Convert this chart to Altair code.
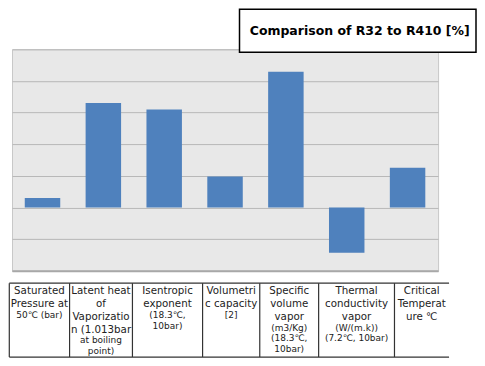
import altair as alt
import pandas as pd

# ---------------- data ----------------
CATEGORIES = [
    "Saturated Pressure at 50℃ (bar)",
    "Latent heat of Vaporization (1.013bar at boiling point)",
    "Isentropic exponent (18.3℃, 10bar)",
    "Volumetric capacity [2]",
    "Specific volume vapor (m3/Kg) (18.3℃, 10bar)",
    "Thermal conductivity vapor (W/(m.k)) (7.2℃, 10bar)",
    "Critical Temperature ℃",
]
VALUES = [3.0, 33.0, 31.0, 9.8, 42.9, -14.3, 12.6]

LABEL_LINES = [
    ["Saturated", "Pressure at", "50℃ (bar)"],
    ["Latent heat", "of", "Vaporizatio", "n (1.013bar", "at boiling", "point)"],
    ["Isentropic", "exponent", "(18.3℃,", "10bar)"],
    ["Volumetri", "c capacity", "[2]"],
    ["Specific", "volume", "vapor", "(m3/Kg)", "(18.3℃,", "10bar)"],
    ["Thermal", "conductivity", "vapor", "(W/(m.k))", "(7.2℃, 10bar)"],
    ["Critical", "Temperat", "ure ℃"],
]
SMALL_FROM = [2, 4, 2, 2, 3, 3, 3]  # index of first small-print line per column

TITLE = "Comparison of R32 to R410 [%]"
Y_TICKS = [-20, -10, 0, 10, 20, 30, 40, 50]

# ---------------- layout ----------------
W, H = 427, 222
COL_WIDTHS = [60.4, 63, 70.3, 57.3, 59, 76, 54.7]
TABLE_LEFT = -2.7
TABLE_TOP, TABLE_H = 234.4, 74
BIG_FS, SMALL_FS = 10.3, 9
FIRST_BASE, BIG_STEP, SMALL_STEP = 11.3, 12.8, 10.7
FONT = "DejaVu Sans"

edges = [0.0]
for w in COL_WIDTHS:
    edges.append(edges[-1] + w)
total_w = edges[-1]

rows = []
for ci, lines in enumerate(LABEL_LINES):
    cx = edges[ci] + COL_WIDTHS[ci] / 2
    ty = FIRST_BASE
    for li, txt in enumerate(lines):
        small = li >= SMALL_FROM[ci]
        if li > 0:
            ty += SMALL_STEP if small else BIG_STEP
        rows.append({"tx": cx, "ty": ty, "text": txt,
                     "fs": SMALL_FS if small else BIG_FS})
table_df = pd.DataFrame(rows)
vedges_df = pd.DataFrame({"e": edges[:-1]})
hedges_df = pd.DataFrame({"h": [0, TABLE_H]})

df = pd.DataFrame({"cat": CATEGORIES, "value": VALUES})
title_df = pd.DataFrame({"title": [TITLE]})

tx_scale = alt.Scale(domain=[0, total_w], range=[TABLE_LEFT, TABLE_LEFT + total_w], nice=False, zero=False)
ty_scale = alt.Scale(domain=[0, TABLE_H], range=[TABLE_TOP, TABLE_TOP + TABLE_H], nice=False, zero=False)

bars = alt.Chart(df).mark_bar(color="#4F81BD").encode(
    x=alt.X("cat:N", sort=CATEGORIES,
            scale=alt.Scale(paddingInner=0.417, paddingOuter=0.21),
            axis=alt.Axis(labels=False, ticks=False, title=None, grid=False,
                          domain=True, domainColor="#A8A8A8", domainWidth=2)),
    y=alt.Y("value:Q", scale=alt.Scale(domain=[-20, 50], nice=False),
            axis=alt.Axis(values=Y_TICKS, labels=False, ticks=False, domain=False,
                          title=None, grid=True, gridColor="#B8B8B8", gridWidth=1)),
)

table_text = alt.Chart(table_df).mark_text(
    font=FONT, color="#222222", align="center", baseline="alphabetic"
).encode(
    x=alt.X("tx:Q", scale=tx_scale, axis=None),
    y=alt.Y("ty:Q", scale=ty_scale, axis=None),
    text="text:N",
    size=alt.Size("fs:Q", scale=None, legend=None),
)

vrules = alt.Chart(vedges_df).mark_rule(color="#333333", strokeWidth=1.2).encode(
    x=alt.X("e:Q", scale=tx_scale, axis=None),
    y=alt.YDatum(0, scale=ty_scale, axis=None),
    y2=alt.datum(TABLE_H),
)

hrules = alt.Chart(hedges_df).mark_rule(color="#333333", strokeWidth=1.2).encode(
    y=alt.Y("h:Q", scale=ty_scale, axis=None),
    x=alt.XDatum(0, scale=tx_scale, axis=None),
    x2=alt.datum(total_w),
)

title_box = alt.Chart(title_df).mark_rect(fill="white", stroke="black", strokeWidth=1.5).encode(
    x=alt.value(228), x2=alt.value(465), y=alt.value(-40), y2=alt.value(3),
)
title_text = alt.Chart(title_df).mark_text(
    font=FONT, fontWeight="bold", fontSize=12.5, color="black",
    align="center", baseline="middle"
).encode(
    text="title:N", x=alt.value(348.5), y=alt.value(-18.5),
)

chart = alt.layer(bars, table_text, vrules, hrules, title_box, title_text).resolve_scale(
    x="independent", y="independent"
).properties(
    width=W, height=H, padding=0, background="white"
).configure_view(
    fill="#E8E8E8", stroke="#C8C8C8"
)

chart.save("out.html", embed_options={"renderer": "svg", "actions": False})
